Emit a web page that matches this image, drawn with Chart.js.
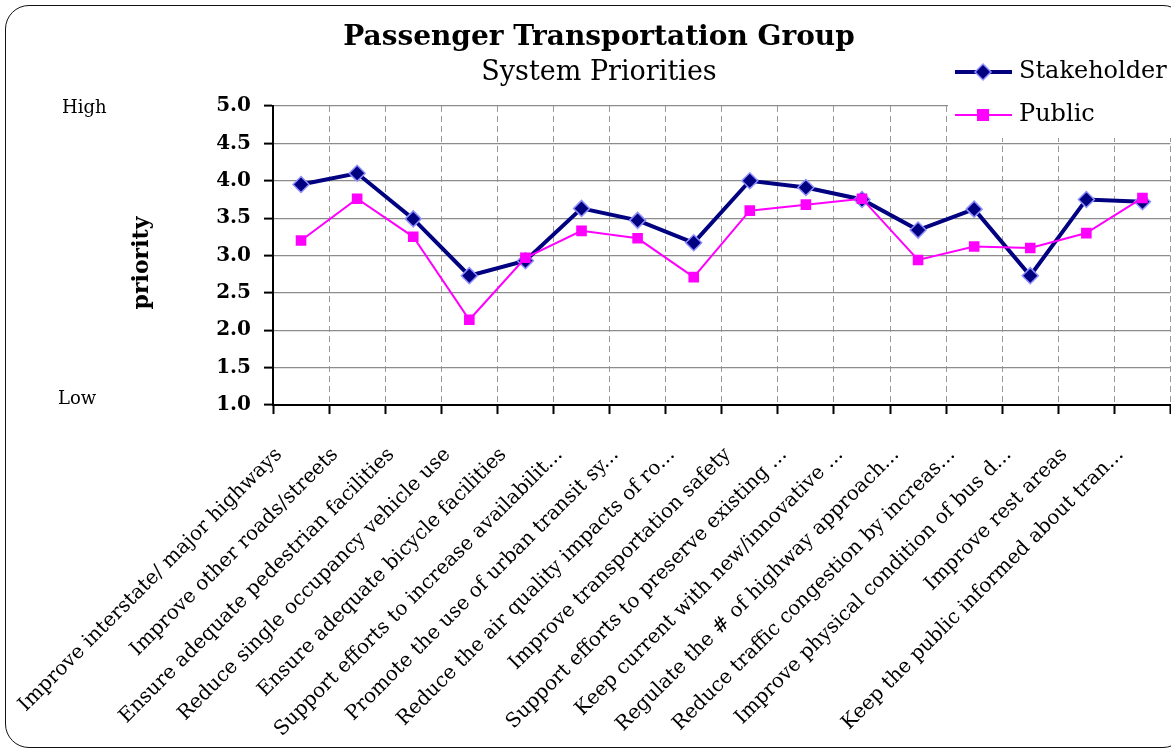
<!DOCTYPE html>
<html lang="en">
<head>
    <meta charset="UTF-8">
    <title>Passenger Transportation Group - System Priorities</title>
    <style>
        body {
            margin: 0;
            background-color: white;
            overflow: hidden;
            width: 1171px;
            height: 748px;
            position: relative;
        }
        .frame {
            position: absolute;
            left: 5px;
            top: 5px;
            width: 1182px;
            height: 743px;
            box-sizing: border-box;
            border: 1.5px solid #111;
            border-radius: 24px;
        }
        #chart {
            position: absolute;
            left: 0;
            top: 0;
        }
    </style>
    <script src="https://cdn.jsdelivr.net/npm/chart.js"></script>
</head>
<body>
    <div class="frame"></div>
    <canvas id="chart" width="1180" height="748"></canvas>

    <script>
        const categories = [
            'Improve interstate/ major highways',
            'Improve other roads/streets',
            'Ensure adequate pedestrian facilities',
            'Reduce single occupancy vehicle use',
            'Ensure adequate bicycle facilities',
            'Support efforts to increase availabilit...',
            'Promote the use of urban transit sy...',
            'Reduce the air quality impacts of ro...',
            'Improve transportation safety',
            'Support efforts to preserve existing ...',
            'Keep current with new/innovative ...',
            'Regulate the # of highway approach...',
            'Reduce traffic congestion by increas...',
            'Improve physical condition of bus d...',
            'Improve rest areas',
            'Keep the public informed about tran...'
        ];
        const stakeholder = [3.95, 4.10, 3.49, 2.73, 2.93, 3.63, 3.47, 3.17, 4.00, 3.91, 3.75, 3.34, 3.62, 2.73, 3.75, 3.72];
        const publicVals = [3.20, 3.76, 3.25, 2.14, 2.97, 3.33, 3.23, 2.71, 3.60, 3.68, 3.76, 2.94, 3.12, 3.10, 3.30, 3.77];
        const seriesNames = ['Stakeholder', 'Public'];

        const navy = '#000080';
        const navyEdge = '#8f8fff';
        const pink = '#ff00ff';
        const serif = '"DejaVu Serif", serif';

        // titles, side notes and the legend drawn on top of the chart
        const decor = {
            id: 'decor',
            afterDraw(chart) {
                const ctx = chart.ctx;
                ctx.save();
                ctx.fillStyle = '#000';
                ctx.textAlign = 'center';
                ctx.textBaseline = 'alphabetic';
                ctx.font = 'bold 28px ' + serif;
                ctx.fillText('Passenger Transportation Group', 599, 45);
                ctx.font = '27px ' + serif;
                ctx.fillText('System Priorities', 599, 80);

                ctx.textAlign = 'left';
                ctx.font = '18px ' + serif;
                ctx.fillText('High', 62, 113);
                ctx.fillText('Low', 58, 404);

                ctx.save();
                ctx.translate(142, 263);
                ctx.rotate(-Math.PI / 2);
                ctx.textAlign = 'center';
                ctx.textBaseline = 'middle';
                ctx.font = 'bold 22px ' + serif;
                ctx.fillText('priority', 0, 0);
                ctx.restore();

                // legend
                ctx.fillStyle = '#fff';
                ctx.fillRect(948, 46, 240, 92);
                const rows = [
                    { y: 72, color: navy, width: 4, name: seriesNames[0], style: 'rectRot', r: 8, edge: navyEdge },
                    { y: 115, color: pink, width: 2, name: seriesNames[1], style: 'rect', r: 7.5, edge: pink }
                ];
                rows.forEach(row => {
                    ctx.strokeStyle = row.color;
                    ctx.lineWidth = row.width;
                    ctx.beginPath();
                    ctx.moveTo(955, row.y);
                    ctx.lineTo(1012, row.y);
                    ctx.stroke();
                    ctx.fillStyle = row.color;
                    ctx.strokeStyle = row.edge;
                    ctx.lineWidth = 1.5;
                    Chart.helpers.drawPoint(ctx, { pointStyle: row.style, radius: row.r, borderWidth: 1.5, rotation: 0 }, 983, row.y);
                    ctx.fillStyle = '#000';
                    ctx.font = '24px ' + serif;
                    ctx.textBaseline = 'alphabetic';
                    ctx.fillText(row.name, 1019, row.y + 6);
                });
                ctx.restore();
            }
        };

        new Chart(document.getElementById('chart'), {
            type: 'line',
            data: {
                labels: categories,
                datasets: [
                    {
                        label: seriesNames[0],
                        data: stakeholder,
                        borderColor: navy,
                        backgroundColor: navy,
                        borderWidth: 4,
                        pointStyle: 'rectRot',
                        pointRadius: 8,
                        pointBorderColor: navyEdge,
                        pointBorderWidth: 1.5,
                        pointBackgroundColor: navy,
                        tension: 0,
                        order: 1
                    },
                    {
                        label: seriesNames[1],
                        data: publicVals,
                        borderColor: pink,
                        backgroundColor: pink,
                        borderWidth: 2,
                        pointStyle: 'rect',
                        pointRadius: 7.5,
                        pointBorderColor: pink,
                        pointBorderWidth: 0,
                        pointBackgroundColor: pink,
                        tension: 0,
                        order: 0
                    }
                ]
            },
            options: {
                responsive: false,
                animation: false,
                devicePixelRatio: 1,
                layout: {
                    padding: { left: 0, top: 106, right: 8, bottom: 0 }
                },
                plugins: {
                    legend: { display: false },
                    title: { display: false },
                    tooltip: { enabled: false }
                },
                scales: {
                    x: {
                        offset: true,
                        afterFit: s => {
                            s.height = 343;
                            s.paddingLeft = 0;
                            s.paddingRight = 0;
                        },
                        grid: {
                            offset: true,
                            color: '#999',
                            lineWidth: 1,
                            tickColor: '#000',
                            tickLength: 9,
                            tickWidth: 2
                        },
                        border: { color: '#000', width: 2, dash: [6, 4] },
                        ticks: {
                            color: '#000',
                            autoSkip: false,
                            minRotation: 45,
                            maxRotation: 45,
                            padding: 29,
                            labelOffset: -22,
                            font: { family: serif, size: 20 }
                        }
                    },
                    y: {
                        min: 1,
                        max: 5,
                        afterFit: s => { s.width = 273; },
                        grid: {
                            color: '#8c8c8c',
                            lineWidth: 1.2,
                            tickColor: '#000',
                            tickLength: 9,
                            tickWidth: 2
                        },
                        border: { color: '#000', width: 2 },
                        ticks: {
                            stepSize: 0.5,
                            color: '#000',
                            padding: 13,
                            font: { family: serif, size: 20, weight: 'bold' },
                            callback: v => Number(v).toFixed(1)
                        }
                    }
                }
            },
            plugins: [decor]
        });
    </script>
</body>
</html>
